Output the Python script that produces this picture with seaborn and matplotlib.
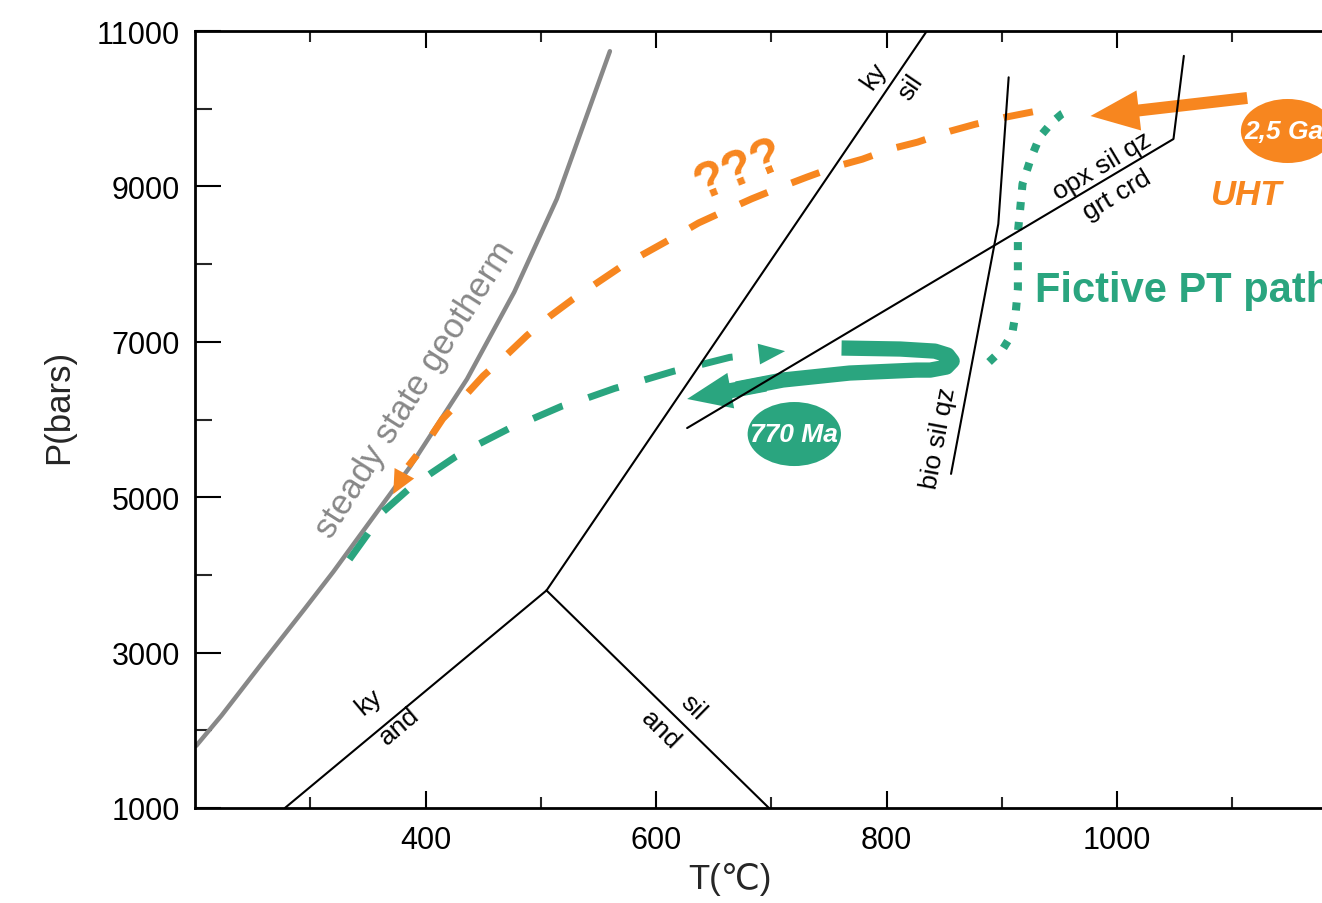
import numpy as np
import matplotlib
matplotlib.use("Agg")
import matplotlib.pyplot as plt
import seaborn as sns
from matplotlib.patches import Ellipse, FancyArrowPatch

# ---------------- data (T in °C, P in bars) ----------------
geo_T = [201, 223, 259, 295, 320, 387, 436, 477, 514, 560]
geo_P = [1800, 2190, 2880, 3560, 4040, 5400, 6520, 7640, 8840, 10740]

uht_T = [927, 903, 877, 855, 827, 803, 779, 757, 731, 708, 683, 662, 637, 616,
         593, 571, 550, 528, 508, 488, 471, 450, 434, 415, 402, 385]
uht_P = [9960, 9890, 9800, 9710, 9570, 9480, 9350, 9260, 9120, 8990, 8840, 8700, 8530, 8350,
         8160, 7980, 7770, 7550, 7330, 7080, 6840, 6560, 6300, 6010, 5720, 5400]
uht_head_T = [385, 372]
uht_head_P = [5400, 5040]

exh_T = [334, 350, 363, 385, 404, 426, 447, 472, 493, 518, 541, 564, 590, 615, 640, 664, 688]
exh_P = [4200, 4530, 4810, 5100, 5300, 5520, 5690, 5880, 6010, 6170, 6280, 6400, 6510, 6620, 6710, 6800, 6840]
exh_head_T = [688, 712]
exh_head_P = [6840, 6880]

dot_T = [889, 901, 909, 912, 914, 914, 914, 916, 918, 925, 933, 944, 952, 961]
dot_P = [6740, 6910, 7100, 7360, 7680, 8070, 8410, 8710, 9030, 9350, 9640, 9830, 9930, 10000]

band_T = [761, 812, 842, 853, 857, 852, 838, 826, 768, 710, 670]
band_P = [6920, 6907, 6880, 6829, 6752, 6675, 6636, 6636, 6598, 6508, 6393]
band_head_T = [695, 627]
band_head_P = [6457, 6264]

ga_arrow_T = [1113, 977]
ga_arrow_P = [10138, 9906]

kyand_T, kyand_P = [278, 505], [1000, 3800]
siland_T, siland_P = [505, 698], [3800, 1000]
kysil_T, kysil_P = [505, 835], [3800, 11000]
bio_T, bio_P = [856, 897, 906], [5300, 8516, 10404]
opx_T, opx_P = [627, 1049, 1058], [5890, 9610, 10680]

ma770_center = (720, 5813)
ga25_center = (1148, 9713)
ellipse_size = (81, 824)

x_major = [400, 600, 800, 1000]
x_minor = [300, 500, 700, 900, 1100]
y_major = [1000, 3000, 5000, 7000, 9000, 11000]
y_minor = [2000, 4000, 6000, 8000, 10000]

ORANGE = "#F7861F"
GREEN = "#2AA57F"
GRAY = "#888888"

# ---------------- figure ----------------
sns.set_theme(style="ticks")
plt.rcParams["font.family"] = ["Liberation Sans", "DejaVu Sans"]

fig = plt.figure(figsize=(13.22, 9.04), dpi=100)
ax = fig.add_axes([195 / 1322, 95 / 904, 1152.5 / 1322, 777 / 904])
ax.set_xlim(200, 1200)
ax.set_ylim(1000, 11000)

# geotherm
sns.lineplot(x=geo_T, y=geo_P, sort=False, estimator=None, ax=ax,
             color=GRAY, lw=3.2, solid_joinstyle="round", zorder=2)

# green dashed exhumation path
sns.lineplot(x=exh_T, y=exh_P, sort=False, estimator=None, ax=ax,
             color=GREEN, lw=5, linestyle=(0, (4.6, 3.9)), zorder=3)
# orange dashed ??? path
sns.lineplot(x=uht_T, y=uht_P, sort=False, estimator=None, ax=ax,
             color=ORANGE, lw=5, linestyle=(0, (4.3, 3.7)), zorder=3)
# green thick hairpin
sns.lineplot(x=band_T, y=band_P, sort=False, estimator=None, ax=ax,
             color=GREEN, lw=11, solid_capstyle="butt", solid_joinstyle="round", zorder=3)
# green dotted path
sns.lineplot(x=dot_T, y=dot_P, sort=False, estimator=None, ax=ax,
             color=GREEN, lw=5.8, linestyle=(0, (1.0, 1.5)), zorder=3)

def head(Ts, Ps, color, hl, hw):
    ax.add_patch(FancyArrowPatch((Ts[0], Ps[0]), (Ts[1], Ps[1]),
                                 arrowstyle=f"-|>,head_length={hl},head_width={hw}",
                                 mutation_scale=1, shrinkA=0, shrinkB=0,
                                 color=color, lw=0, zorder=4))

head(uht_head_T, uht_head_P, ORANGE, 17, 8)
head(exh_head_T, exh_head_P, GREEN, 19, 7.5)

ax.add_patch(FancyArrowPatch((band_head_T[0], band_head_P[0]), (band_head_T[1], band_head_P[1]),
                             arrowstyle="simple,head_length=32,head_width=26,tail_width=11",
                             mutation_scale=1, shrinkA=0, shrinkB=0,
                             color=GREEN, lw=0, zorder=3))
ax.add_patch(FancyArrowPatch((ga_arrow_T[0], ga_arrow_P[0]), (ga_arrow_T[1], ga_arrow_P[1]),
                             arrowstyle="simple,head_length=35,head_width=29,tail_width=8.6",
                             mutation_scale=1, shrinkA=0, shrinkB=0,
                             color=ORANGE, lw=0, zorder=3))

# ellipses
ax.add_patch(Ellipse(ma770_center, ellipse_size[0], ellipse_size[1], color=GREEN, lw=0, zorder=4))
ax.add_patch(Ellipse(ga25_center, ellipse_size[0], ellipse_size[1], color=ORANGE, lw=0, zorder=4))

# reaction lines
for Ts, Ps in [(kyand_T, kyand_P), (siland_T, siland_P), (kysil_T, kysil_P),
               (bio_T, bio_P), (opx_T, opx_P)]:
    sns.lineplot(x=Ts, y=Ps, sort=False, estimator=None, ax=ax,
                 color="black", lw=1.5, zorder=5)

# ---------------- texts ----------------
lab = dict(fontsize=19, ha="center", va="center", color="black", zorder=6)
ax.text(789, 10430, "ky", rotation=55.7, **lab)
ax.text(821, 10280, "sil", rotation=55.7, **lab)
ax.text(351, 2370, "ky", rotation=40, **lab)
ax.text(377, 2060, "and", rotation=40, **lab)
ax.text(632, 2300, "sil", rotation=-44.4, **lab)
ax.text(604, 2017, "and", rotation=-44.4, **lab)
ax.text(987, 9275, "opx sil qz", rotation=30.8, **lab)
ax.text(1000, 8900, "grt crd", rotation=30.8, **lab)
ax.text(845, 5775, "bio sil qz", rotation=79.4, **lab)

ax.text(391, 6390, "steady state geotherm", rotation=57.6, fontsize=25,
        color=GRAY, ha="center", va="center", zorder=6)
ax.text(672, 9210, "???", rotation=22, fontsize=36, fontweight="bold",
        color=ORANGE, ha="center", va="center", zorder=6)
ax.text(ma770_center[0], ma770_center[1], "770 Ma", fontsize=19, fontweight="bold",
        fontstyle="italic", color="white", ha="center", va="center", zorder=6)
ax.text(ga25_center[0] - 3, ga25_center[1], "2,5 Ga", fontsize=19, fontweight="bold",
        fontstyle="italic", color="white", ha="center", va="center", zorder=6)
ax.text(1113, 8890, "UHT", fontsize=25, fontweight="bold", fontstyle="italic",
        color=ORANGE, ha="center", va="center", zorder=6)
ax.text(929, 7525, "Fictive PT path", fontsize=30, fontweight="bold",
        color=GREEN, ha="left", va="baseline", zorder=6)

# ---------------- axes styling ----------------
ax.set_xticks(x_major)
ax.set_xticks(x_minor, minor=True)
ax.set_yticks(y_major)
ax.set_yticks(y_minor, minor=True)
ax.set_xticklabels([str(v) for v in x_major])
ax.set_yticklabels([str(v) for v in y_major])

ax.tick_params(axis="x", which="major", direction="in", length=12.2, width=1.5,
               top=True, bottom=True, labelsize=22, pad=12.5, colors="black")
ax.tick_params(axis="x", which="minor", direction="in", length=7.9, width=1.5,
               top=True, bottom=True)
ax.tick_params(axis="y", which="major", direction="in", length=18.4, width=1.5,
               left=True, right=True, labelsize=22, pad=10.8, colors="black")
ax.tick_params(axis="y", which="minor", direction="in", length=12.5, width=1.5,
               left=True, right=True)
for s in ax.spines.values():
    s.set_linewidth(2)
    s.set_color("black")
    s.set_visible(True)

ax.set_xlabel("T(℃)", fontsize=25)
ax.set_ylabel("P(bars)", fontsize=25)
ax.xaxis.set_label_coords(0.464, -0.069)
ax.yaxis.set_label_coords(-0.104, 0.517)
ax.grid(False)

fig.savefig("out.png", dpi=100)
